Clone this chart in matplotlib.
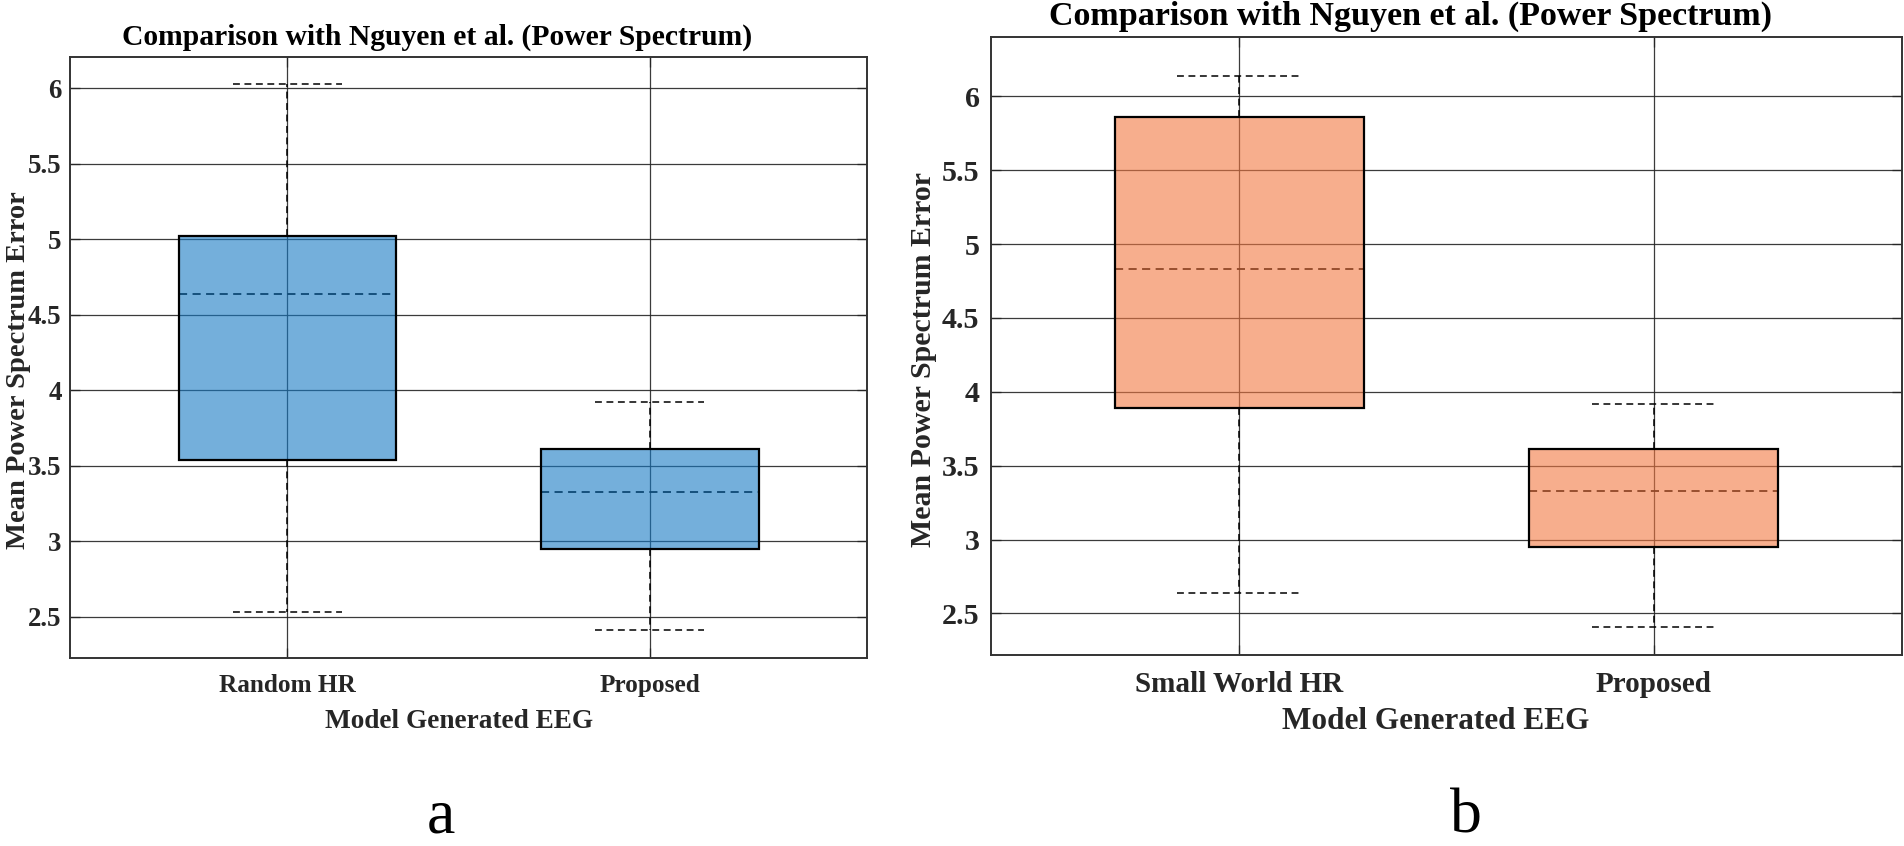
import matplotlib.pyplot as plt

plt.rcParams['font.family'] = ['Liberation Serif', 'DejaVu Serif']
plt.rcParams['font.weight'] = 'bold'

# box statistics
left_names = ['Random HR', 'Proposed']
left_q1 = [3.54, 2.95]
left_med = [4.64, 3.33]
left_q3 = [5.02, 3.61]
left_lo = [2.53, 2.41]
left_hi = [6.03, 3.92]

right_names = ['Small World HR', 'Proposed']
right_q1 = [3.89, 2.95]
right_med = [4.83, 3.33]
right_q3 = [5.86, 3.61]
right_lo = [2.64, 2.41]
right_hi = [6.14, 3.92]

yticks = [2.5, 3, 3.5, 4, 4.5, 5, 5.5, 6]
ytick_labels = ['2.5', '3', '3.5', '4', '4.5', '5', '5.5', '6']

fig = plt.figure(figsize=(19.04, 8.46), dpi=100)
ax1 = fig.add_axes([0.0368, 0.2226, 0.4187, 0.7104])
ax2 = fig.add_axes([0.5203, 0.2261, 0.4788, 0.7298])


def draw_panel(ax, names, q1, med, q3, lo, hi, face, ylim, fs_y, fs_x, fs_xl, fs_yl, fs_t,
               ypad, ylab_x):
    stats = []
    for i in range(len(names)):
        stats.append({'label': names[i], 'q1': q1[i], 'med': med[i], 'q3': q3[i],
                      'whislo': lo[i], 'whishi': hi[i], 'fliers': []})
    dash = (0, (4.5, 3))
    ax.bxp(stats, positions=[1, 2], widths=0.6, capwidths=0.3, patch_artist=True,
           showfliers=False,
           boxprops=dict(facecolor=face, edgecolor='black', linewidth=1.6, zorder=3),
           medianprops=dict(color='black', linestyle=dash, linewidth=1.3, zorder=2.5),
           whiskerprops=dict(color='black', linestyle=dash, linewidth=1.1, zorder=2.5),
           capprops=dict(color='black', linestyle=dash, linewidth=1.1, zorder=2.5))
    ax.set_xlim(0.4, 2.6)
    ax.set_ylim(*ylim)
    ax.set_yticks(yticks)
    ax.set_yticklabels(ytick_labels)
    ax.set_axisbelow(True)
    ax.grid(True, color='#262626', linewidth=0.9, alpha=0.9)
    ax.tick_params(direction='in', length=7, width=0.9, colors='#262626',
                   top=True, right=True)
    ax.tick_params(axis='y', labelsize=fs_y, pad=ypad)
    ax.tick_params(axis='x', labelsize=fs_x, pad=12)
    for s in ax.spines.values():
        s.set_color('#333333')
        s.set_linewidth(1.4)
    ax.set_xlabel('Model Generated EEG', fontsize=fs_xl, fontweight='bold',
                  color='#262626', labelpad=8)
    ax.set_ylabel('Mean Power Spectrum Error', fontsize=fs_yl, fontweight='bold',
                  color='#262626')
    ax.xaxis.set_label_coords(0.488, -0.085)
    ax.yaxis.set_label_coords(ylab_x, 0.478)
    ax.set_title('Comparison with Nguyen et al. (Power Spectrum)', fontsize=fs_t,
                 fontweight='bold', pad=9, x=0.46)


draw_panel(ax1, left_names, left_q1, left_med, left_q3, left_lo, left_hi,
           (0.09, 0.48, 0.77, 0.6), (2.23, 6.21), 19.4, 18.2, 19.6, 20.5, 21.3, 6, -0.049)
draw_panel(ax2, right_names, right_q1, right_med, right_q3, right_lo, right_hi,
           (0.95, 0.47, 0.26, 0.6), (2.22, 6.40), 21.6, 21, 22.5, 21.5, 24.5, 8, -0.059)

fig.text(441 / 1904, 0.0, 'a', fontsize=46, fontweight='normal', ha='center', va='bottom')
fig.text(1466 / 1904, 0.0, 'b', fontsize=46, fontweight='normal', ha='center', va='bottom')

fig.savefig('out.png', dpi=100)
